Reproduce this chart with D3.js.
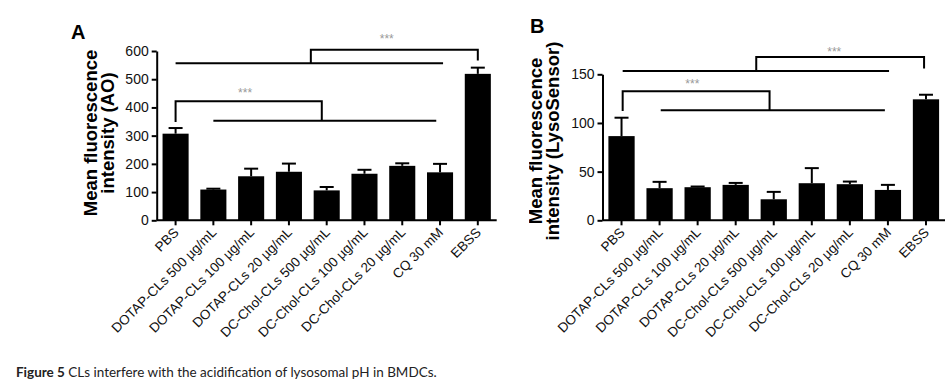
<!DOCTYPE html>
<html><head><meta charset="utf-8">
<script src="https://cdn.jsdelivr.net/npm/d3@7"></script>
<style>body{margin:0;background:#fff}svg{display:block}</style>
</head><body>
<svg id="c" width="952" height="383"></svg>
<script>
const categories = ["PBS","DOTAP-CLs 500 µg/mL","DOTAP-CLs 100 µg/mL","DOTAP-CLs 20 µg/mL","DC-Chol-CLs 500 µg/mL","DC-Chol-CLs 100 µg/mL","DC-Chol-CLs 20 µg/mL","CQ 30 mM","EBSS"];
const valuesA = [307, 109, 156, 172, 106, 165, 193, 170, 519];
const errorsA = [327, 112, 183, 201, 118, 179, 202, 200, 541];
const valuesB = [86.5, 33, 34, 36.4, 21.6, 38.1, 37.1, 31.2, 124.3];
const errorsB = [105.4, 39.5, 34.7, 38.4, 29.2, 53.6, 39.8, 36.4, 129];
const ticksA = [0,100,200,300,400,500,600];
const ticksB = [0,50,100,150];
const yLabelA = ["Mean fluorescence", "intensity (AO)"];
const yLabelB = ["Mean fluorescence", "intensity (LysoSensor)"];
// significance annotations (category index positions, value levels)
const sigLinesA = [{from:0, to:7.08, y:557}, {from:1, to:6.9, y:353}];
const sigBracketsA = [{from:3.58, to:8, y:604, yFrom:557, yTo:566, starX:5.59, starY:640},
                      {from:0, to:3.87, y:422, yFrom:348, yTo:353, starX:1.84, starY:447}];
const sigLinesB = [{from:0.03, to:7.03, y:153.4}, {from:1.03, to:6.92, y:113}];
const sigBracketsB = [{from:3.54, to:7.95, y:167.8, yFrom:153.4, yTo:155.9, starX:5.59, starY:172},
                      {from:0.03, to:3.89, y:132.5, yFrom:112.3, yTo:113, starX:1.86, starY:139}];
const captionBold = "Figure 5";
const captionText = " CLs interfere with the acidification of lysosomal pH in BMDCs.";

const svg = d3.select("#c");
const FONT = "Liberation Sans, Arial, Helvetica, sans-serif";

function panel(cfg) {
  const g = svg.append("g");
  const x = d3.scaleBand().domain(categories).range(cfg.xr).paddingInner(0.31).paddingOuter(0.155);
  const y = d3.scaleLinear().domain([0, cfg.max]).range(cfg.yr);
  const xc = i => { const f = Math.floor(i); const b = Math.min(f, categories.length-1);
    return x(categories[b]) + x.bandwidth()/2 + (i - b) * x.step(); };

  // bars
  g.selectAll("rect.bar").data(cfg.values).join("rect").attr("class","bar")
    .attr("x", (d,i) => x(categories[i])).attr("width", x.bandwidth())
    .attr("y", d => y(d)).attr("height", d => y(0) - y(d)).attr("fill", "#000");
  // error bars
  const eb = g.selectAll("g.eb").data(cfg.errors).join("g").attr("class","eb");
  eb.append("line").attr("x1", (d,i) => xc(i)).attr("x2", (d,i) => xc(i))
    .attr("y1", (d,i) => y(cfg.values[i])).attr("y2", d => y(d)).attr("stroke","#000").attr("stroke-width",2);
  eb.append("line").attr("x1", (d,i) => xc(i) - 7).attr("x2", (d,i) => xc(i) + 7)
    .attr("y1", d => y(d)).attr("y2", d => y(d)).attr("stroke","#000").attr("stroke-width",2);

  // y axis
  const ya = g.append("g").attr("transform", `translate(${cfg.xr[0]},0)`)
    .call(d3.axisLeft(y).tickValues(cfg.ticks).tickSize(5).tickSizeOuter(0).tickPadding(3));
  ya.select(".domain").attr("stroke-width", 2);
  ya.selectAll(".tick line").attr("stroke-width", 2);
  ya.selectAll("text").attr("font-family", FONT).attr("font-size", 14).attr("fill", "#111");

  // x axis
  const xa = g.append("g").attr("transform", `translate(0,${y(0)})`)
    .call(d3.axisBottom(x).tickSize(5).tickSizeOuter(0));
  xa.select(".domain").attr("stroke-width", 2).attr("d", `M${cfg.xr[0]},0H${cfg.xr[1]}`);
  xa.selectAll(".tick line").attr("stroke-width", 2);
  xa.selectAll("text").attr("font-family", FONT).attr("font-size", 13.5).attr("fill", "#111")
    .attr("text-anchor", "end").attr("dy", null).attr("y", 0)
    .attr("transform", "translate(4,13) rotate(-45)");

  // significance lines
  const sg = g.append("g").attr("stroke", "#000").attr("stroke-width", 2).attr("fill", "none");
  cfg.lines.forEach(l => sg.append("line").attr("x1", xc(l.from)).attr("x2", xc(l.to))
    .attr("y1", y(l.y)).attr("y2", y(l.y)));
  cfg.brackets.forEach(b => {
    sg.append("path").attr("d",
      `M${xc(b.from)},${y(b.yFrom)}V${y(b.y)}H${xc(b.to)}V${y(b.yTo)}`);
    g.append("text").attr("x", xc(b.starX)).attr("y", y(b.starY))
      .attr("text-anchor", "middle").attr("dominant-baseline", "middle")
      .attr("font-family", FONT).attr("font-size", 12).attr("fill", "#999").text("***");
  });

  // y label
  const lab = g.append("text").attr("font-family", FONT).attr("font-weight", "bold")
    .attr("font-size", 18.5).attr("fill", "#000")
    .attr("transform", `translate(${cfg.labX},${cfg.labY}) rotate(-90)`).attr("text-anchor", "middle");
  cfg.label.forEach((t, k) => lab.append("tspan").attr("x", 0).attr("y", k * 17).text(t));
  if (cfg.clipX) {
    const id = "clip" + cfg.letter;
    svg.append("clipPath").attr("id", id).append("rect").attr("x", cfg.clipX).attr("y", 0)
      .attr("width", 952).attr("height", 383);
    lab.attr("clip-path", null);
    const wrap = g.append("g").attr("clip-path", `url(#${id})`);
    wrap.node().appendChild(lab.node());
  }
  // panel letter
  g.append("text").attr("x", cfg.letX).attr("y", cfg.letY).attr("font-family", FONT)
    .attr("font-weight", "bold").attr("font-size", 20).text(cfg.letter);
}

panel({xr:[156.7, 496.7], yr:[220.3, 51], max:600, values:valuesA, errors:errorsA, ticks:ticksA,
  lines:sigLinesA, brackets:sigBracketsA, label:yLabelA, labX:96.5, labY:133, letter:"A", letX:71, letY:39});
panel({xr:[602.5, 945], yr:[220.3, 74.3], max:150, values:valuesB, errors:errorsB, ticks:ticksB,
  lines:sigLinesB, brackets:sigBracketsB, label:yLabelB, labX:541.5, labY:141, letter:"B", letX:530, letY:33, clipX:529});

// caption
const cap = svg.append("text").attr("x", 16).attr("y", 377)
  .attr("font-family", "Lato, 'Open Sans', sans-serif").attr("font-size", 12.5).attr("fill", "#222");
cap.append("tspan").attr("font-weight", "bold").text(captionBold);
cap.append("tspan").text(captionText);
const w = cap.node().getComputedTextLength();
cap.attr("font-size", 12.5 * 421 / w);
</script>
</body></html>
